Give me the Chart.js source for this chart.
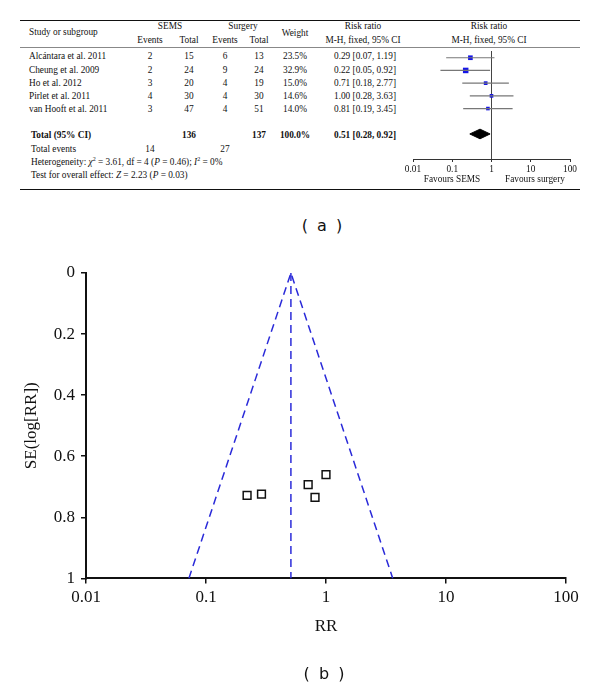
<!DOCTYPE html>
<html lang="en">
<head>
<meta charset="UTF-8">
<title>SEMS vs surgery: forest and funnel plot</title>
<script src="https://cdn.jsdelivr.net/npm/chart.js"></script>
<style>
    body { margin: 0; background: #fff; }
    #page { position: relative; width: 600px; height: 689px; overflow: hidden; font-family: "Liberation Serif", "DejaVu Serif", serif; color: #111; }
    .t { position: absolute; font-size: 9.3px; white-space: nowrap; transform: translateY(-50%); line-height: 1; }
    .c { transform: translate(-50%, -50%); }
    .b { font-weight: bold; }
    .hline { position: absolute; left: 20px; width: 560px; }
    .panel { position: absolute; font-family: "DejaVu Sans", sans-serif; font-size: 16px; word-spacing: 4px; transform: translate(-50%, -50%); color: #111; }
    canvas { position: absolute; }
    sup { font-size: 6px; vertical-align: 4px; line-height: 0; }
</style>
</head>
<body>
<div id="page">
    <div class="hline" style="top:20px; border-top:1.5px solid #111;"></div>
    <div class="hline" style="top:47px; border-top:1px solid #888;"></div>
    <div class="hline" style="top:189px; border-top:1.5px solid #111;"></div>
    <div id="table"></div>
    <canvas id="forest" width="207" height="132" style="left:388px; top:47px;"></canvas>
    <div class="t c" style="left:452px; top:180px;">Favours SEMS</div>
    <div class="t c" style="left:535px; top:180px;">Favours surgery</div>
    <div class="panel" style="left:322px; top:225px;">( a )</div>
    <canvas id="funnel" width="600" height="449" style="left:0; top:240px;"></canvas>
    <div class="panel" style="left:324px; top:673px;">( b )</div>
</div>

<script>
    // study data (a)
    const studies = ['Alcántara et al. 2011', 'Cheung et al. 2009', 'Ho et al. 2012', 'Pirlet et al. 2011', 'van Hooft et al. 2011'];
    const semsEvents = [2, 2, 3, 4, 3];
    const semsTotal = [15, 24, 20, 30, 47];
    const surgEvents = [6, 9, 4, 4, 4];
    const surgTotal = [13, 24, 19, 30, 51];
    const weights = [23.5, 32.9, 15.0, 14.6, 14.0];
    const rr = [0.29, 0.22, 0.71, 1.00, 0.81];
    const rrLow = [0.07, 0.05, 0.18, 0.28, 0.19];
    const rrHigh = [1.19, 0.92, 2.77, 3.63, 3.45];
    const pooled = [0.51, 0.28, 0.92];   // estimate, low, high
    const forestTicks = [0.01, 0.1, 1, 10, 100];

    // funnel data (b)
    const seLogRR = [0.724, 0.728, 0.693, 0.660, 0.735];
    const funnelX = [0.072, 0.51, 3.6];
    const funnelY = [1, 0, 1];
    const funnelTicksX = [0.01, 0.1, 1, 10, 100];

    // ---- table text ----
    const table = document.getElementById('table');
    function txt(x, y, html, cls) {
        const d = document.createElement('div');
        d.className = 't ' + (cls || '');
        d.style.left = x + 'px';
        d.style.top = y + 'px';
        d.innerHTML = html;
        table.appendChild(d);
    }
    txt(29, 33, 'Study or subgroup');
    txt(170, 27, 'SEMS', 'c');
    txt(150, 41, 'Events', 'c'); txt(189, 41, 'Total', 'c');
    txt(243, 27, 'Surgery', 'c');
    txt(225, 41, 'Events', 'c'); txt(259, 41, 'Total', 'c');
    txt(295, 34, 'Weight', 'c');
    txt(363, 27, 'Risk ratio', 'c'); txt(363, 41, 'M-H, fixed, 95% CI', 'c');
    txt(489, 27, 'Risk ratio', 'c'); txt(489, 41, 'M-H, fixed, 95% CI', 'c');

    const rowY = [57, 70.5, 83.5, 97, 110];
    for (let i = 0; i < studies.length; i++) {
        const y = rowY[i];
        txt(29, y, studies[i]);
        txt(150, y, semsEvents[i], 'c');
        txt(189, y, semsTotal[i], 'c');
        txt(225, y, surgEvents[i], 'c');
        txt(259, y, surgTotal[i], 'c');
        txt(295, y, weights[i].toFixed(1) + '%', 'c');
        txt(334, y, rr[i].toFixed(2) + ' [' + rrLow[i].toFixed(2) + ', ' + rrHigh[i].toFixed(2) + ']');
    }
    const sum = a => a.reduce((s, v) => s + v, 0);
    txt(31, 136, 'Total (95% CI)', 'b');
    txt(189, 136, sum(semsTotal), 'c b');
    txt(259, 136, sum(surgTotal), 'c b');
    txt(295, 136, '100.0%', 'c b');
    txt(334, 136, pooled[0].toFixed(2) + ' [' + pooled[1].toFixed(2) + ', ' + pooled[2].toFixed(2) + ']', 'b');
    txt(31, 150, 'Total events');
    txt(150, 150, sum(semsEvents), 'c');
    txt(225, 150, sum(surgEvents), 'c');
    txt(31, 163, 'Heterogeneity: <i>χ</i><sup>2</sup> = 3.61, df = 4 (<i>P</i> = 0.46); <i>I</i><sup>2</sup> = 0%');
    txt(31, 176, 'Test for overall effect: <i>Z</i> = 2.23 (<i>P</i> = 0.03)');

    // ---- forest plot ----
    const forestSets = [];
    for (let i = 0; i < studies.length; i++) {
        forestSets.push({
            type: 'line',
            data: [{ x: rrLow[i], y: i }, { x: rrHigh[i], y: i }],
            borderColor: '#777', borderWidth: 1.2, pointRadius: 0
        });
    }
    forestSets.push({
        type: 'scatter',
        data: rr.map((v, i) => ({ x: v, y: i })),
        pointStyle: 'rect',
        pointRadius: weights.map(w => Math.sqrt(w) * 0.68),
        backgroundColor: '#1515e6', borderColor: '#1515e6', borderWidth: 0
    });
    // pooled diamond
    forestSets.push({
        type: 'line',
        data: [{ x: pooled[1], y: 6 }, { x: pooled[0], y: 5.62 }, { x: pooled[2], y: 6 }, { x: pooled[0], y: 6.38 }, { x: pooled[1], y: 6 }],
        borderColor: '#000', backgroundColor: '#000', borderWidth: 1, fill: 'shape', pointRadius: 0, tension: 0
    });
    // line of no effect
    forestSets.push({
        type: 'line',
        data: [{ x: 1, y: -0.53 }, { x: 1, y: 7.97 }],
        borderColor: '#444', borderWidth: 1, pointRadius: 0
    });

    new Chart(document.getElementById('forest'), {
        type: 'scatter',
        data: { datasets: forestSets },
        options: {
            responsive: false,
            animation: false,
            layout: { padding: { left: 25, right: 25, top: 0, bottom: 0 } },
            plugins: { legend: { display: false }, tooltip: { enabled: false } },
            scales: {
                x: {
                    type: 'logarithmic', min: 0.01, max: 100,
                    afterBuildTicks: s => { s.ticks = forestTicks.map(v => ({ value: v })); },
                    afterFit: s => { s.height = 20; },
                    ticks: { callback: v => String(v), font: { family: 'Liberation Serif', size: 9.3 }, color: '#111', padding: 2, maxRotation: 0, autoSkip: false },
                    grid: { drawOnChartArea: false, drawTicks: true, tickLength: 3, color: '#333' },
                    border: { display: true, color: '#333', width: 1 }
                },
                y: { display: false, min: -0.53, max: 7.97, reverse: true }
            }
        }
    });

    // ---- funnel plot ----
    const serif = { family: 'Liberation Serif', size: 17 };
    new Chart(document.getElementById('funnel'), {
        type: 'scatter',
        data: {
            datasets: [
                {
                    type: 'line',
                    data: funnelX.map((v, i) => ({ x: v, y: funnelY[i] })),
                    borderColor: '#2b2bd9', borderWidth: 1.5, borderDash: [8, 5], pointRadius: 0, fill: false
                },
                {
                    type: 'line',
                    data: [{ x: pooled[0], y: 0 }, { x: pooled[0], y: 1 }],
                    borderColor: '#2b2bd9', borderWidth: 1.5, borderDash: [8, 5], pointRadius: 0
                },
                {
                    data: rr.map((v, i) => ({ x: v, y: seLogRR[i] })),
                    pointStyle: 'rect', pointRadius: 5.5,
                    borderColor: '#111', borderWidth: 1.5, backgroundColor: '#fff'
                }
            ]
        },
        options: {
            responsive: false,
            animation: false,
            layout: { padding: { left: 21, right: 34, top: 33, bottom: 52 } },
            plugins: { legend: { display: false }, tooltip: { enabled: false } },
            scales: {
                x: {
                    type: 'logarithmic', min: 0.01, max: 100,
                    afterBuildTicks: s => { s.ticks = funnelTicksX.map(v => ({ value: v })); },
                    afterFit: s => { s.height = 58.6; },
                    ticks: { callback: v => String(v), font: serif, color: '#111', padding: 4, maxRotation: 0, autoSkip: false },
                    grid: { drawOnChartArea: false, drawTicks: true, tickLength: 5, color: '#111', lineWidth: 1.5 },
                    border: { display: true, color: '#111', width: 2 },
                    title: { display: true, text: 'RR', font: serif, color: '#111', padding: 0 }
                },
                y: {
                    min: 0, max: 1, reverse: true,
                    afterFit: s => { s.width = 65; },
                    ticks: { stepSize: 0.2, callback: v => String(+v.toFixed(1)), font: serif, color: '#111', padding: 6 },
                    grid: { drawOnChartArea: false, drawTicks: true, tickLength: 5, color: '#111', lineWidth: 1.5 },
                    border: { display: true, color: '#111', width: 2 },
                    title: { display: true, text: 'SE(log[RR])', font: serif, color: '#111', padding: 0 }
                }
            }
        }
    });
</script>
</body>
</html>
